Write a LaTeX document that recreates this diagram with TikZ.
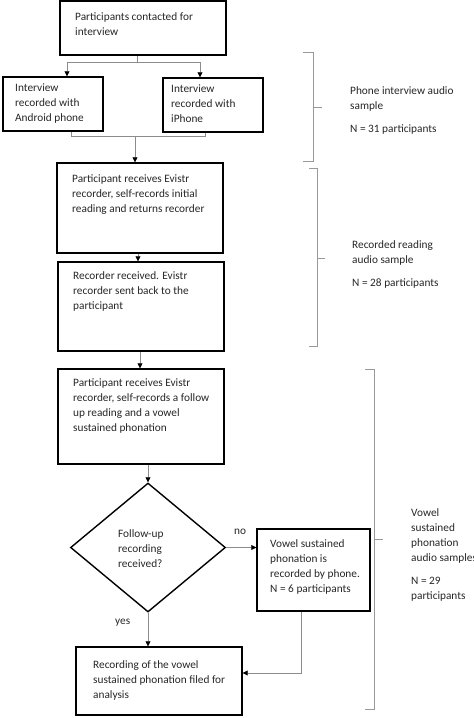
\documentclass[tikz,border=0pt]{standalone}
\usepackage{fontspec}
\setmainfont{Carlito}
\usetikzlibrary{arrows.meta,shapes.geometric}
\begin{document}
\begin{tikzpicture}[x=1pt,y=-1pt,
  box/.style={draw=black,line width=1.4pt,rectangle,inner sep=0pt},
  dia/.style={draw=black,line width=1.4pt,diamond,inner sep=0pt},
  txt/.style={anchor=north west,align=left,inner sep=0pt,font=\fontsize{11.3}{15}\selectfont,text=black!85},
  conn/.style={draw=black!45,line width=0.7pt},
  arr/.style={conn,-{Triangle[black,width=5pt,length=5pt]}},
  brace/.style={draw=black!40,line width=0.7pt}]
\useasboundingbox (0,0) rectangle (474,718);
% boxes
\node[box,minimum width=166pt,minimum height=54pt] (b1) at (143,28) {};
\node[box,minimum width=100pt,minimum height=54pt] (b2) at (53,104) {};
\node[box,minimum width=100pt,minimum height=54pt] (b3) at (213,105) {};
\node[box,minimum width=166pt,minimum height=90pt] (b4) at (140,208) {};
\node[box,minimum width=166pt,minimum height=89pt] (b5) at (141,306.5) {};
\node[box,minimum width=166pt,minimum height=95pt] (b6) at (141,416.5) {};
\node[dia,minimum width=155pt,minimum height=129pt] (d) at (148,547.5) {};
\node[box,minimum width=113pt,minimum height=82pt] (b7) at (313.5,570) {};
\node[box,minimum width=166pt,minimum height=68pt] (b8) at (159,681) {};
% texts
\node[txt] (t1) at (75,12.5) {Participants contacted for\\interview};
\node[txt] (t2) at (15,83.5) {Interview\\recorded with\\Android phone};
\node[txt] (t3) at (171,84.5) {Interview\\recorded with\\iPhone};
\node[txt] (t4) at (72,174.5) {Participant receives Evistr\\recorder, self-records initial\\reading and returns recorder};
\node[txt] (t5) at (73,271.5) {Recorder received. Evistr\\recorder sent back to the\\participant};
\node[txt] (t6) at (73,378.5) {Participant receives Evistr\\recorder, self-records a follow\\up reading and a vowel\\sustained phonation};
\node[txt] (t7) at (118,529.5) {Follow-up\\recording\\received?};
\node[txt] (t8) at (270,539.5) {Vowel sustained\\phonation is\\recorded by phone.\\N = 6 participants};
\node[txt] (t9) at (93,660.5) {Recording of the vowel\\sustained phonation filed for\\analysis};
\node[txt] (no) at (234,528.5) {no};
\node[txt] (yes) at (115,618.5) {yes};
% right labels
\node[txt] (L1) at (350,86.5) {Phone interview audio\\sample\\[8pt]N = 31 participants};
\node[txt] (L2) at (352,240.5) {Recorded reading\\audio sample\\[8pt]N = 28 participants};
\node[txt] (L3) at (411,508.5) {Vowel\\sustained\\phonation\\audio samples\\[8pt]N = 29\\participants};
% connectors
\coordinate (s1) at (137,62);
\coordinate (s2) at (67,62);
\coordinate (s3) at (200,62);
\draw[conn] (b1.south -| s1) -- (s1);
\draw[arr] (s1) -- (s2) -- (b2.north -| s2);
\draw[arr] (s1) -- (s3) -- (b3.north -| s3);
\coordinate (m2) at (71,136);
\coordinate (m3) at (205,136);
\coordinate (m) at (135,136);
\draw[conn] (b2.south -| m2) -- (m2) -- (m3) -- (b3.south -| m3);
\draw[arr] (m) -- (b4.north -| m);
\coordinate (c45) at (138,258);
\draw[arr] (b4.south -| c45) -- (b5.north -| c45);
\coordinate (c56) at (140,360);
\draw[arr] (b5.south -| c56) -- (b6.north -| c56);
\draw[arr] (b6.south -| d.north) -- (d.north);
\draw[arr] (d.east) -- (b7.west |- d.east);
\draw[arr] (d.south) -- (b8.north -| d.south);
\coordinate (c7) at (301,673);
\draw[arr] (b7.south -| c7) -- (c7) -- (b8.east |- c7);
% braces
\draw[brace] (303,52) -- (313,52) -- (313,161) -- (303,161);
\draw[brace] (313,107) -- (322,107);
\draw[brace] (309,168) -- (317,168) -- (317,346) -- (309,346);
\draw[brace] (317,258) -- (325,258);
\draw[brace] (365,369) -- (374,369) -- (374,709) -- (365,709);
\draw[brace] (374,539) -- (383,539);
\end{tikzpicture}
\end{document}
